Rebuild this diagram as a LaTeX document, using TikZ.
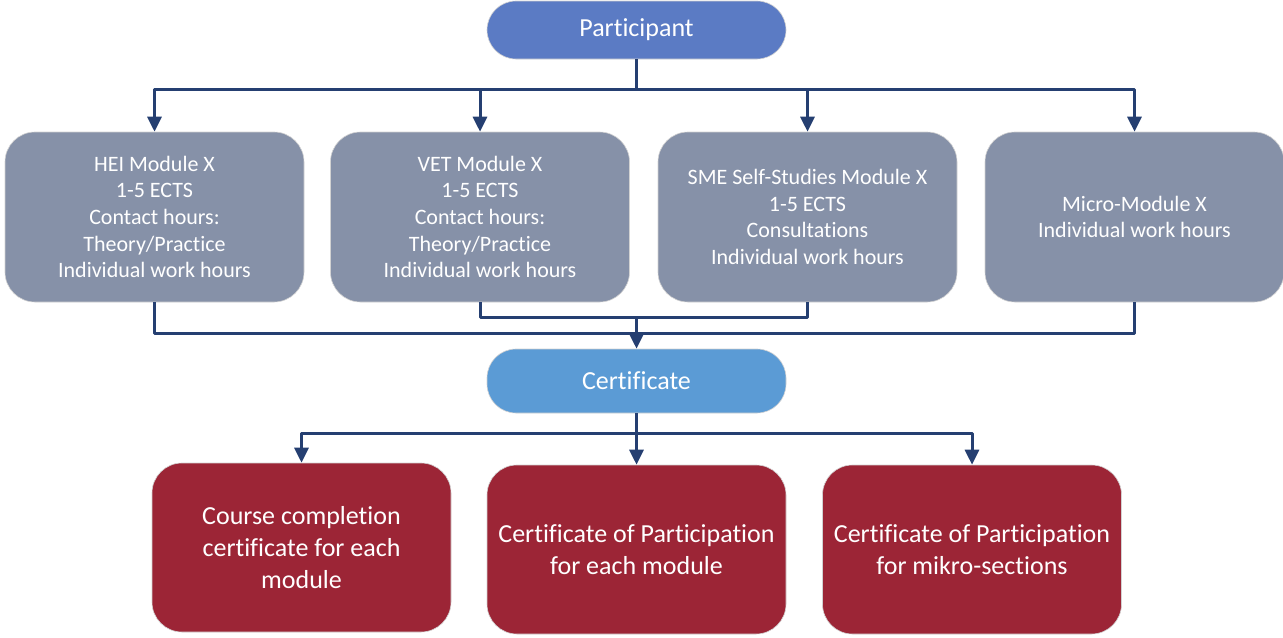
\documentclass[tikz,border=0pt]{standalone}
\usepackage{fontspec}
\setmainfont[Ligatures=NoCommon]{Carlito}
\usetikzlibrary{arrows.meta,calc}
\definecolor{partblue}{HTML}{5B7BC4}
\definecolor{modgray}{HTML}{8691A8}
\definecolor{certblue}{HTML}{5B9BD5}
\definecolor{certred}{HTML}{9C2536}
\definecolor{linkblue}{HTML}{253F71}
\begin{document}
\begin{tikzpicture}[x=0.5pt, y=-0.5pt, line join=round,
  >={Triangle[length=7.5pt,width=7pt]},
  box/.style={rounded corners=15pt, draw=gray!35, line width=0.3pt,
    text=white, align=center, minimum width=149.5pt, inner sep=2pt},
  modbox/.style={box, fill=modgray, minimum height=85pt,
    font=\fontsize{11}{13.3}\selectfont},
  pill/.style={box, rounded corners=14.5pt, font=\fontsize{13}{15.8}\selectfont},
  redbox/.style={box, fill=certred, minimum height=84.5pt,
    font=\fontsize{13}{15.8}\selectfont},
  link/.style={draw=linkblue, line width=1.5pt},
  arr/.style={link, ->}]
\useasboundingbox (0,0) rectangle (1283,637);
% top level
\node[pill, fill=partblue, minimum height=29pt] (part) at (636.5,30) {Participant};
% modules
\node[modbox] (hei) at (154.5,217) {HEI Module X\\1-5 ECTS\\Contact hours:\\Theory/Practice\\Individual work hours};
\node[modbox] (vet) at (480,217) {VET Module X\\1-5 ECTS\\Contact hours:\\Theory/Practice\\Individual work hours};
\node[modbox] (sme) at (807.5,217) {SME Self-Studies Module X\\1-5 ECTS\\Consultations\\Individual work hours};
\node[modbox] (micro) at (1134.5,217) {Micro-Module X\\Individual work hours};
% certificate
\node[pill, fill=certblue, minimum height=32pt] (cert) at (636.5,381) {Certificate};
% certificate types
\node[redbox] (course) at (301.5,547.5) {Course completion\\certificate for each\\module};
\node[redbox] (partmod) at (636.5,549.5) {Certificate of Participation\\for each module};
\node[redbox] (partmikro) at (972,549.5) {Certificate of Participation\\for mikro-sections};
% connectors
\coordinate (topbus) at (636.5,89);
\coordinate (join) at (636.5,316);
\coordinate (split) at (636.5,433);
\draw[link] (part.south) -- (topbus);
\foreach \m in {hei,vet,sme,micro}
  \draw[arr] (topbus) -| (\m.north);
\draw[link] (hei.south) -- ++(0,31) -| (micro.south);
\draw[link] (vet.south) -- ++(0,15) -| (sme.south);
\draw[arr] (join) -- (cert.north);
\draw[link] (cert.south) -- (split);
\foreach \c in {course,partmod,partmikro}
  \draw[arr] (split) -| (\c.north);
\end{tikzpicture}
\end{document}
